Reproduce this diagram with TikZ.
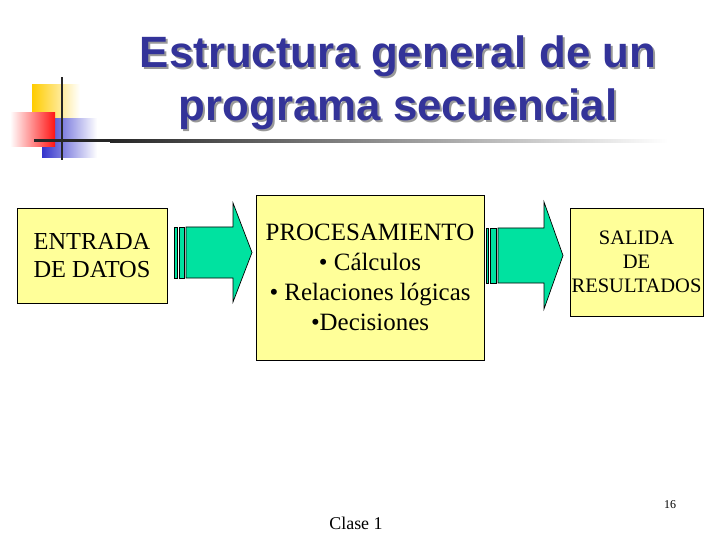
\documentclass[tikz,border=0pt]{standalone}
\usepackage{fontspec}
\setmainfont{Liberation Serif}
\newfontfamily\titlefont{Liberation Sans}
\usetikzlibrary{positioning}

\definecolor{boxyellow}{RGB}{255,255,153}
\definecolor{arrowgreen}{RGB}{0,226,160}
\definecolor{titleblue}{RGB}{51,51,153}
\definecolor{logoyellow}{RGB}{255,204,0}
\definecolor{logoblue}{RGB}{51,51,204}
\definecolor{logored}{RGB}{255,20,20}

\begin{document}
\begin{tikzpicture}[x=1bp,y=-1bp]

		\tikzset{
			block/.style={
					rectangle, draw=black, fill=boxyellow, line width=0.8bp, inner sep=0pt, align=center
				},
			blockarrow/.style={
					draw=black, fill=arrowgreen, line width=0.7bp, line join=miter
				},
			titletext/.style={
					anchor=base, inner sep=0pt, font=\titlefont\bfseries\fontsize{44}{53}\selectfont
				},
		}
		\useasboundingbox (0,0) rectangle (720,540);

		% logo
		\shade[left color=logoyellow, middle color=logoyellow, right color=white] (32,85) rectangle (80,120);
		\shade[left color=logoblue, middle color=logoblue, right color=white] (42,119) rectangle (97,158);
		\shade[left color=white, right color=logored] (10,113) rectangle (55,147);
		\fill[black!85] (34,139.5) rectangle (110,142.5);
		\shade[left color=black!85, right color=white] (110,139.5) rectangle (668,142.5);
		\fill[black!85] (60.8,77) rectangle (63.4,160);

		% title
		\node[titletext, text=black!40] (t1s) at (400,70) {Estructura general de un};
		\node[titletext, text=black!40] (t2s) at (400,123) {programa secuencial};
		\node[titletext, text=titleblue] (t1) at (398,68) {Estructura general de un};
		\node[titletext, text=titleblue] (t2) at (398,121) {programa secuencial};

		% boxes
		\node[block, minimum width=150bp, minimum height=95bp, font=\fontsize{24.5}{28.5}\selectfont] (entrada) at (92,255.5) {ENTRADA\\DE DATOS};
		\node[block, minimum width=228bp, minimum height=165bp, font=\fontsize{25}{30}\selectfont] (proc) at (370,277.5) {PROCESAMIENTO\\ \textbullet{} Cálculos\\ \textbullet{} Relaciones lógicas\\ \textbullet Decisiones};
		\node[block, minimum width=133bp, minimum height=108bp, font=\fontsize{20.6}{24}\selectfont] (salida) at (636.5,262) {SALIDA\\DE\\RESULTADOS};

		% arrows
		\draw[blockarrow] (174,227) rectangle (177,278);
		\draw[blockarrow] (179,227) rectangle (184,278);
		\draw[blockarrow] (186,227) -- (233,227) -- (233,203) -- (252,252.5) -- (233,302) -- (233,278) -- (186,278) -- cycle;

		\draw[blockarrow] (486,228) rectangle (488.5,283);
		\draw[blockarrow] (490,228) rectangle (496,283);
		\draw[blockarrow] (498,228) -- (544,228) -- (544,202) -- (563,255.5) -- (544,309) -- (544,283) -- (498,283) -- cycle;

		% footer
		\node[font=\fontsize{18}{21}\selectfont] (clase) at (356,523) {Clase 1};
		\node[font=\fontsize{12}{14}\selectfont] (pagina) at (670,505) {16};

	\end{tikzpicture}
\end{document}
